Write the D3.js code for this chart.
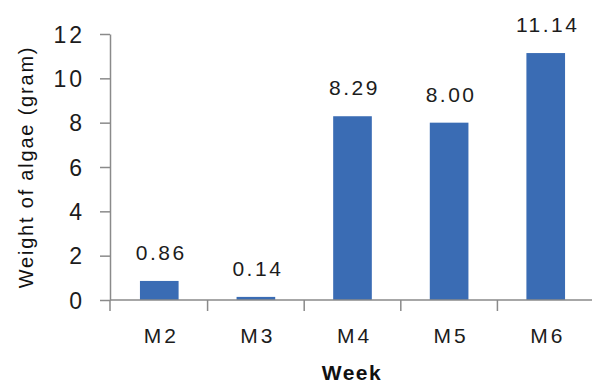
<!DOCTYPE html>
<html>
<head>
<meta charset="utf-8">
<script src="https://cdn.jsdelivr.net/npm/d3@7/dist/d3.min.js"></script>
<style>
  html, body { margin: 0; padding: 0; background: #fff; }
  svg { display: block; font-family: "Liberation Sans", Arial, sans-serif; }
</style>
</head>
<body>
<script>
// Algae weight per week
const weeks = ["M2", "M3", "M4", "M5", "M6"];
const weights = [0.86, 0.14, 8.29, 8.00, 11.14];
const yTicks = [0, 2, 4, 6, 8, 10, 12];

const W = 592, H = 385;
const svg = d3.select("body").append("svg").attr("width", W).attr("height", H);

const x = d3.scaleBand().domain(weeks).range([110, 595]).paddingInner(0.6).paddingOuter(0.31);
const y = d3.scaleLinear().domain([0, 12]).range([300, 34]);

const axisColor = "#8a8a8a";
const textColor = "#1c1c1c";

// Bars
svg.selectAll("rect.bar")
  .data(weeks.map((w, i) => ({ w, v: weights[i] })))
  .join("rect")
  .attr("class", "bar")
  .attr("x", d => x(d.w))
  .attr("width", x.bandwidth())
  .attr("y", d => y(d.v))
  .attr("height", d => y(0) - y(d.v))
  .attr("fill", "#3a6cb4");

// Value labels
svg.selectAll("text.val")
  .data(weeks.map((w, i) => ({ w, v: weights[i] })))
  .join("text")
  .attr("class", "val")
  .attr("x", d => x(d.w) + x.bandwidth() / 2 + 2)
  .attr("y", d => y(d.v) - 21)
  .attr("text-anchor", "middle")
  .attr("font-size", 21)
  .attr("letter-spacing", 2.5)
  .attr("fill", textColor)
  .text(d => d.v.toFixed(2));

// Y axis
const yAxis = svg.append("g")
  .attr("transform", "translate(110,0)")
  .call(d3.axisLeft(y).tickValues(yTicks).tickSize(10).tickPadding(15).tickSizeOuter(0));
yAxis.select(".domain").attr("stroke", axisColor).attr("stroke-width", 1.5);
yAxis.selectAll(".tick line").attr("stroke", axisColor).attr("stroke-width", 1.5);
yAxis.selectAll(".tick text")
  .attr("font-size", 23)
  .attr("letter-spacing", 3)
  .attr("dy", "0.36em")
  .attr("fill", textColor)
  .attr("font-family", "Liberation Sans, Arial, sans-serif");

// X axis
const xAxis = svg.append("g")
  .attr("transform", "translate(0,300)")
  .call(d3.axisBottom(x).tickSize(0).tickSizeOuter(0));
xAxis.select(".domain").remove();
xAxis.append("line")
  .attr("x1", 110).attr("x2", W).attr("y1", 0).attr("y2", 0)
  .attr("stroke", axisColor).attr("stroke-width", 1.5);
// Category boundary ticks
const bounds = weeks.map(w => x(w) - x.step() * x.paddingInner() / 2)
  .map((b, i) => i === 0 ? 110 : b);
bounds.push(x(weeks[weeks.length - 1]) + x.bandwidth() + x.step() * x.paddingInner() / 2);
xAxis.selectAll("line.bound")
  .data(bounds)
  .join("line")
  .attr("class", "bound")
  .attr("x1", d => d).attr("x2", d => d)
  .attr("y1", 0).attr("y2", 11)
  .attr("stroke", axisColor).attr("stroke-width", 1.5);
xAxis.selectAll(".tick text")
  .attr("y", 43)
  .attr("dy", 0)
  .attr("dx", 2)
  .attr("font-size", 21)
  .attr("letter-spacing", 3)
  .attr("fill", textColor)
  .attr("font-family", "Liberation Sans, Arial, sans-serif");

// Axis titles
svg.append("text")
  .attr("x", 352)
  .attr("y", 380)
  .attr("text-anchor", "middle")
  .attr("font-size", 21)
  .attr("font-weight", "bold")
  .attr("letter-spacing", 1.5)
  .attr("fill", "#111")
  .text("Week");

svg.append("text")
  .attr("transform", "translate(33,167) rotate(-90)")
  .attr("text-anchor", "middle")
  .attr("font-size", 20)
  .attr("letter-spacing", 1.8)
  .attr("fill", "#111")
  .text("Weight of algae (gram)");
</script>
</body>
</html>
